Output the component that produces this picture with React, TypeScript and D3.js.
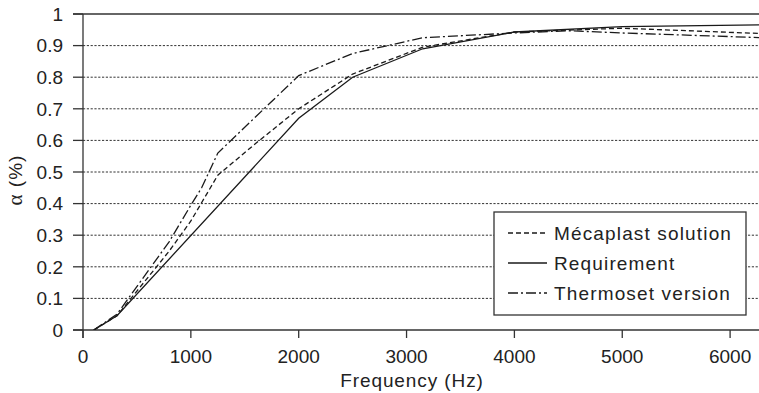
import React from "react";
import * as d3 from "d3";

// ---- data ----
const mecaplastFreq = [100, 315, 800, 1000, 1250, 1600, 2000, 2500, 3150, 4000, 5000, 6300];
const mecaplastAlpha = [0, 0.045, 0.25, 0.345, 0.49, 0.59, 0.7, 0.81, 0.895, 0.943, 0.955, 0.938];

const requirementFreq = [100, 315, 2000, 2500, 3150, 4000, 5000, 6300];
const requirementAlpha = [0, 0.045, 0.67, 0.8, 0.89, 0.943, 0.96, 0.966];

const thermosetFreq = [100, 315, 800, 1000, 1100, 1250, 2000, 2500, 3150, 4000, 4500, 5000, 6300];
const thermosetAlpha = [0, 0.05, 0.28, 0.395, 0.45, 0.56, 0.805, 0.875, 0.925, 0.94, 0.947, 0.94, 0.925];

const xTicks = [0, 1000, 2000, 3000, 4000, 5000, 6000];
const yTicks = [0, 0.1, 0.2, 0.3, 0.4, 0.5, 0.6, 0.7, 0.8, 0.9, 1];
const legendLabels = ["Mécaplast solution", "Requirement", "Thermoset version"];

const W = 759;
const H = 393;
const left = 83;
const top = 14;
const bottom = 330;

const FONT = "'Liberation Sans', Arial, Helvetica, sans-serif";
const DASHES = ["5,3", "", "10,3,2,3"];

export default function App() {
  const x = d3.scaleLinear().domain([0, 6300]).range([left, left + 6300 * 0.10785]);
  const y = d3.scaleLinear().domain([0, 1]).range([bottom, top]);

  const series = [
    { f: mecaplastFreq, a: mecaplastAlpha },
    { f: requirementFreq, a: requirementAlpha },
    { f: thermosetFreq, a: thermosetAlpha },
  ];
  const line = d3
    .line<[number, number]>()
    .x((d) => x(d[0]))
    .y((d) => y(d[1]));

  const fmt = (v: number) => (v === 0 ? "0" : v === 1 ? "1" : d3.format(".1f")(v));

  const legX = 494;
  const legY = 212;
  const legW = 252;
  const legH = 103;
  const rowY = [233, 263, 293];

  return (
    <svg
      width={W}
      height={H}
      style={{ position: "absolute", left: 0, top: 0, background: "#fff" }}
      fontFamily={FONT}
    >
      <defs>
        <clipPath id="plot">
          <rect x={left} y={0} width={W - left} height={bottom} />
        </clipPath>
      </defs>

      {/* grid lines */}
      {yTicks
        .filter((t) => t > 0 && t < 1)
        .map((t) => (
          <line
            key={"g" + t}
            x1={left}
            x2={W}
            y1={y(t)}
            y2={y(t)}
            stroke="#333"
            strokeWidth={1}
            strokeDasharray="2.2,1.6"
          />
        ))}
      {/* top line */}
      <line x1={left - 10} x2={W} y1={y(1)} y2={y(1)} stroke="#333" strokeWidth={1.3} />

      {/* axes */}
      <line x1={left} x2={left} y1={y(1)} y2={bottom + 8} stroke="#333" strokeWidth={1.3} />
      <line x1={left - 10} x2={W} y1={bottom} y2={bottom} stroke="#333" strokeWidth={1.3} />

      {yTicks.map((t) => (
        <g key={"y" + t}>
          <line x1={left - 10} x2={left} y1={y(t)} y2={y(t)} stroke="#333" strokeWidth={1.3} />
          <text
            x={63}
            y={y(t)}
            dy="0.36em"
            textAnchor="end"
            fontSize={19}
            fill="#222"
          >
            {fmt(t)}
          </text>
        </g>
      ))}

      {xTicks.map((t) => (
        <g key={"x" + t}>
          <line x1={x(t)} x2={x(t)} y1={bottom} y2={bottom + 8} stroke="#333" strokeWidth={1.3} />
          <text x={x(t)} y={363} textAnchor="middle" fontSize={19} fill="#222">
            {t}
          </text>
        </g>
      ))}

      <text x={412} y={387} textAnchor="middle" fontSize={19} letterSpacing={0.9} fill="#222">
        Frequency (Hz)
      </text>
      <text
        transform="translate(22,180) rotate(-90)"
        textAnchor="middle"
        fontSize={19}
        letterSpacing={1}
        fill="#222"
      >
        <tspan fontFamily="'Liberation Serif', 'DejaVu Serif', serif" fontSize={21}>
          α
        </tspan>
        <tspan> (%)</tspan>
      </text>

      {/* series */}
      <g clipPath="url(#plot)">
        {series.map((s, i) => (
          <path
            key={"s" + i}
            d={line(s.f.map((f, j) => [f, s.a[j]] as [number, number])) || ""}
            fill="none"
            stroke="#1a1a1a"
            strokeWidth={1.3}
            strokeDasharray={DASHES[i] || undefined}
          />
        ))}
      </g>

      {/* legend */}
      <rect x={legX} y={legY} width={legW} height={legH} fill="#fff" stroke="#333" strokeWidth={1.3} />
      {legendLabels.map((l, i) => (
        <g key={"l" + i}>
          <line
            x1={508}
            x2={547}
            y1={rowY[i]}
            y2={rowY[i]}
            stroke="#1a1a1a"
            strokeWidth={1.3}
            strokeDasharray={DASHES[i] || undefined}
          />
          <text x={554} y={rowY[i]} dy="0.36em" fontSize={19} letterSpacing={1.15} fill="#222">
            {l}
          </text>
        </g>
      ))}
    </svg>
  );
}
